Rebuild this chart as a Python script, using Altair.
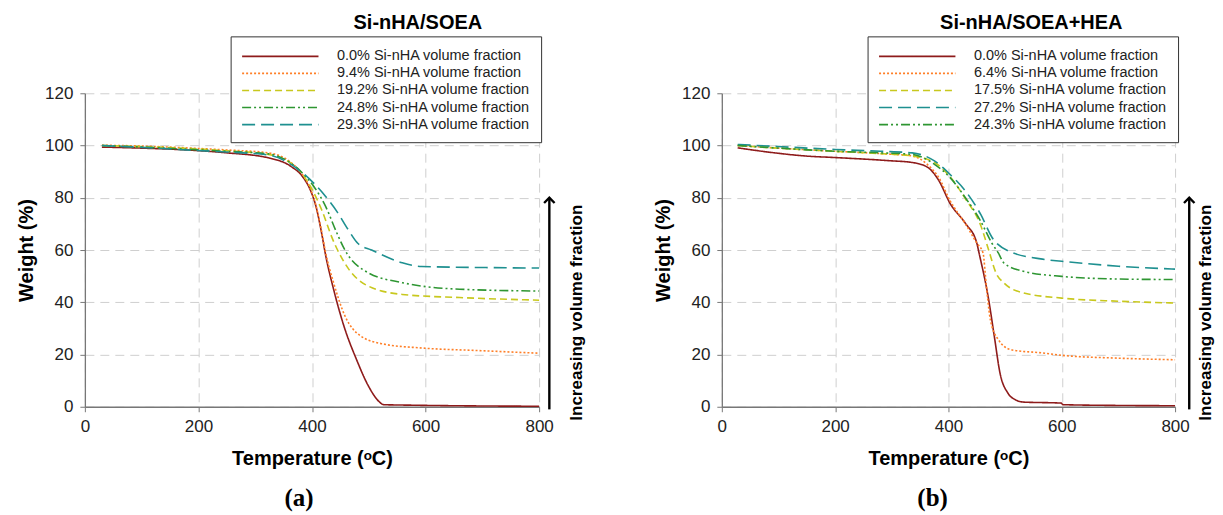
import altair as alt
import pandas as pd

# ---------------- data (a) Si-nHA/SOEA ----------------
a_labels = ["0.0% Si-nHA volume fraction", "9.4% Si-nHA volume fraction",
            "19.2% Si-nHA volume fraction", "24.8% Si-nHA volume fraction",
            "29.3% Si-nHA volume fraction"]
a0_T = [30, 100, 188, 250, 323, 363, 383, 397, 407, 417, 424, 438, 458, 478, 499, 519, 526, 576, 700, 800]
a0_W = [99.4, 99.0, 98.2, 97.2, 95.3, 92.0, 88.2, 83.0, 76.7, 66.4, 58.0, 45.0, 29.7, 18.3, 8.1, 1.8, 0.8, 0.6, 0.3, 0.2]
a1_T = [30, 100, 188, 250, 323, 363, 383, 397, 407, 417, 424, 438, 458, 485, 526, 593, 694, 800]
a1_W = [100.1, 99.8, 99.0, 98.3, 97.2, 93.5, 89.0, 83.5, 77.0, 67.0, 59.0, 47.5, 34.8, 27.2, 24.0, 22.5, 21.5, 20.5]
a2_T = [30, 100, 188, 250, 323, 376, 397, 417, 437, 445, 465, 499, 559, 660, 800]
a2_W = [100.0, 99.6, 98.8, 98.0, 96.6, 90.8, 84.4, 75.4, 63.8, 60.0, 52.6, 46.2, 43.0, 41.8, 40.8]
a3_T = [30, 100, 188, 250, 323, 383, 403, 424, 444, 458, 499, 559, 660, 800]
a3_W = [100.0, 99.4, 98.5, 97.8, 96.8, 89.5, 84.4, 76.7, 66.4, 60.0, 51.3, 47.5, 45.0, 44.3]
a4_T = [30, 100, 188, 250, 323, 376, 403, 424, 444, 464, 481, 505, 559, 593, 700, 800]
a4_W = [100.0, 99.3, 98.2, 97.5, 96.4, 90.8, 85.6, 80.5, 74.7, 67.7, 62.5, 60.0, 55.1, 53.7, 53.3, 53.1]

# ---------------- data (b) Si-nHA/SOEA+HEA ----------------
b_labels = ["0.0% Si-nHA volume fraction", "6.4% Si-nHA volume fraction",
            "17.5% Si-nHA volume fraction", "27.2% Si-nHA volume fraction",
            "24.3% Si-nHA volume fraction"]
b0_T = [28, 93, 147, 200, 295, 336, 363, 383, 403, 430, 450, 454, 471, 481, 491, 505, 518, 532, 599, 602, 700, 800]
b0_W = [99.1, 97.2, 96.0, 95.4, 94.2, 93.5, 91.7, 86.6, 77.8, 70.2, 62.7, 58.9, 41.0, 26.9, 12.9, 5.2, 2.7, 1.8, 1.4, 0.8, 0.5, 0.4]
b1_T = [28, 100, 200, 280, 336, 363, 383, 403, 430, 450, 461, 467, 474, 488, 511, 566, 600, 700, 800]
b1_W = [100.0, 99.0, 97.8, 96.9, 96.0, 92.7, 87.7, 78.8, 70.0, 62.7, 58.9, 46.0, 33.3, 25.7, 21.8, 20.6, 19.7, 18.6, 18.0]
b2_T = [28, 100, 200, 280, 336, 376, 403, 430, 457, 471, 484, 498, 532, 600, 700, 800]
b2_W = [100.0, 99.0, 97.8, 96.9, 96.0, 93.4, 88.0, 79.6, 69.4, 60.0, 51.2, 47.4, 43.6, 41.6, 40.4, 39.7]
b3_T = [28, 100, 200, 280, 336, 376, 403, 430, 457, 477, 505, 566, 600, 700, 800]
b3_W = [100.4, 99.6, 98.5, 97.8, 97.2, 94.0, 88.9, 82.6, 73.6, 64.8, 59.7, 56.5, 55.7, 53.8, 52.7]
b4_T = [28, 100, 200, 280, 336, 376, 403, 430, 457, 477, 488, 498, 532, 600, 700, 800]
b4_W = [100.0, 99.0, 97.8, 97.2, 96.6, 92.7, 87.7, 80.0, 71.0, 62.5, 58.9, 55.0, 51.9, 49.9, 48.9, 48.7]

x_ticks = [0, 200, 400, 600, 800]
y_ticks = [0, 20, 40, 60, 80, 100, 120]

# styles
a_colors = ["#8E1B1B", "#FF7F27", "#C8C81E", "#2E9632", "#1E9090"]
a_dashes = [[1, 0], [2, 2], [7, 4], [9, 3, 2, 3, 2, 3], [13, 6]]
b_colors = ["#8E1B1B", "#FF7F27", "#C8C81E", "#1E9090", "#2E9632"]
b_dashes = [[1, 0], [2, 2], [7, 4], [13, 6], [9, 3, 2, 3, 2, 3]]

FONT = "Liberation Sans"


def frame(labels, Ts, Ws):
    rows = []
    for lab, T, W in zip(labels, Ts, Ws):
        for t, w in zip(T, W):
            rows.append({"T": t, "W": w, "S": lab})
    return pd.DataFrame(rows)


def panel(df, labels, colors, dashes, title, dx_title, tag, ann):
    x = alt.X("T:Q", scale=alt.Scale(domain=[0, 800], nice=False),
              axis=alt.Axis(values=x_ticks, title="Temperature (ᵒC)", labelFlush=False))
    y = alt.Y("W:Q", scale=alt.Scale(domain=[0, 120], nice=False),
              axis=alt.Axis(values=y_ticks, title="Weight (%)", labelFlush=False))
    legend = alt.Legend(
        title=None, orient="none", legendX=146, legendY=-57,
        symbolType="M-1,0H8", symbolSize=289, symbolStrokeWidth=1.6,
        labelFont=FONT, labelFontSize=14.5, labelColor="#222",
        labelOffset=77, rowPadding=1.1, padding=10.5,
        strokeColor="#333", fillColor="white", labelLimit=400,
    )
    lines = alt.Chart(df).mark_line(strokeWidth=1.6, interpolate="monotone").encode(
        x=x, y=y,
        color=alt.Color("S:N", scale=alt.Scale(domain=labels, range=colors), legend=legend),
        strokeDash=alt.StrokeDash("S:N", scale=alt.Scale(domain=labels, range=dashes), legend=legend),
    )
    adf = pd.DataFrame({"T": [ann["ax"]], "y0": [ann["ay0"]], "y1": [ann["ay1"]],
                        "tx": [ann["tx"]], "ty": [ann["ty"]],
                        "lx": [ann["labx"]], "ly": [ann["laby"]],
                        "txt": ["Increasing volume fraction"], "tag": [tag]})
    arrow = alt.Chart(adf).mark_rule(color="black", strokeWidth=2.4).encode(
        x="T:Q", y="y0:Q", y2="y1:Q")
    head = alt.Chart(adf).mark_point(shape="M-1,1L0,0L1,1", size=110, filled=False,
                                     color="black", strokeWidth=2.4, opacity=1).encode(
        x="T:Q", y="y1:Q")
    txt = alt.Chart(adf).mark_text(angle=270, font=FONT, fontSize=17, fontWeight="bold",
                                   color="black", align="center", baseline="middle").encode(
        x="tx:Q", y="ty:Q", text="txt:N")
    lab = alt.Chart(adf).mark_text(font="Liberation Serif", fontSize=25, fontWeight="bold",
                                   color="black", align="center", baseline="middle").encode(
        x="lx:Q", y="ly:Q", text="tag:N")
    return alt.layer(lines, arrow, head, txt, lab).properties(
        width=ann["w"], height=314,
        title=alt.TitleParams(title, font=FONT, fontSize=20, fontWeight="bold",
                              anchor="middle", frame="group", dx=dx_title, offset=3),
    )


dfa = frame(a_labels, [a0_T, a1_T, a2_T, a3_T, a4_T], [a0_W, a1_W, a2_W, a3_W, a4_W])
dfb = frame(b_labels, [b0_T, b1_T, b2_T, b3_T, b4_T], [b0_W, b1_W, b2_W, b3_W, b4_W])

pa = panel(dfa, a_labels, a_colors, a_dashes, "Si-nHA/SOEA", 106, "(a)",
           dict(ax=818, ay0=-1, ay1=80, tx=866, ty=36,
                labx=377, laby=-35, w=455))
pb = panel(dfb, b_labels, b_colors, b_dashes, "Si-nHA/SOEA+HEA", 83, "(b)",
           dict(ax=825, ay0=-1, ay1=80, tx=855, ty=36,
                labx=372, laby=-35, w=454))

chart = alt.hconcat(pa, pb, spacing=183, bounds="flush").resolve_scale(
    color="independent", strokeDash="independent"
).resolve_legend(
    color="independent", strokeDash="independent"
).configure(
    font=FONT,
).configure_view(
    stroke=None,
).configure_axis(
    labelFont=FONT, labelFontSize=17, labelColor="#222", labelPadding=7,
    titleFont=FONT, titleFontSize=20, titleFontWeight="bold", titleColor="black",
    domainColor="#777", domainWidth=1.3, tickColor="#777", tickSize=5,
    gridColor="#CFCFCF", gridDash=[9, 6], gridWidth=1,
).configure_axisX(titlePadding=14).configure_axisY(titlePadding=8).properties(
    padding={"left": 8, "top": 4, "right": 0, "bottom": 0},
)

chart.save("out.html", embed_options={"renderer": "svg", "actions": False})
